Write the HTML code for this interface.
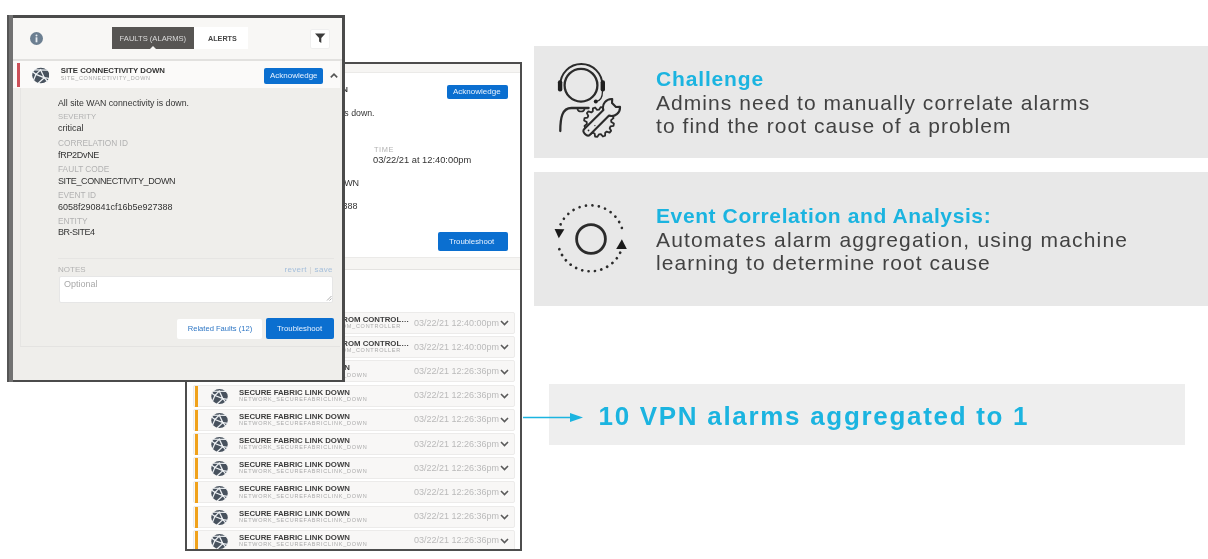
<!DOCTYPE html>
<html><head><meta charset="utf-8">
<style>
*{box-sizing:border-box;margin:0;padding:0}
html,body{width:1208px;height:559px;overflow:hidden;background:#fff}
body{position:relative;font-family:"Liberation Sans",sans-serif;color:#333}
.a{position:absolute}
.t{position:absolute;line-height:1;white-space:nowrap}
/* right panel */
#rp{position:absolute;left:185px;top:62px;width:336.5px;height:489px;border:2px solid #4d4d4d;background:#fff;overflow:hidden}
/* left panel */
#lp{position:absolute;left:7px;top:15px;width:338px;height:367px;background:#efeeeb;overflow:hidden}
.btn{position:absolute;background:#0b6fd0;border-radius:2px;color:#e8f2ff}
.lbl{color:#b2b2b2}
.val{color:#333}
.card{position:absolute;background:#e8e8e8}
.cy{color:#1bb4e0;font-weight:bold}
.body{color:#424242;font-size:21px;letter-spacing:1.05px}
.row{position:absolute;left:6px;width:322px;height:22px;background:#f8f7f6;border:1px solid #ecebea;border-radius:2px}
.row .bar{position:absolute;left:1.3px;top:0;width:3px;height:21px;background:#f0a21c}
.row svg{position:absolute;left:16.5px;top:3.3px}
.row .tt{position:absolute;left:45px;top:3.1px;font-size:7.8px;font-weight:bold;color:#3e3e3e;line-height:1;white-space:nowrap}
.row .st{position:absolute;left:45px;top:11.25px;font-size:5.5px;color:#aaa;letter-spacing:0.75px;line-height:1;white-space:nowrap}
.row .tm{position:absolute;left:220px;top:5.7px;font-size:9px;color:#bababa;line-height:1;white-space:nowrap}
.row .ch{position:absolute;left:306px;top:7.2px}
</style></head><body><div style="position:absolute;left:0;top:0;width:1208px;height:559px;will-change:transform">
<svg width="0" height="0" style="position:absolute">
<defs>
<symbol id="globe" viewBox="0 0 18 16">
<ellipse cx="9" cy="8" rx="8.8" ry="7.95" fill="#48525e"/>
<g stroke="#eef1f4" stroke-width="1.3" fill="none" stroke-linecap="round">
<path d="M4.1 6.9 L8.8 2.3 L12.6 10.3 L4.1 6.9 L0.6 4.2"/>
<path d="M12.6 10.3 L17.9 11.1"/>
<path d="M2.6 2.4 L15.6 2.6"/>
<path d="M4.1 6.9 L1.6 12.8"/>
<path d="M12.6 10.3 L6.6 15.8"/>
<path d="M12.6 10.3 L15.9 14.2"/>
</g>
</symbol>
<symbol id="chev" viewBox="0 0 9 6"><path d="M1 1 L4.5 4.5 L8 1" stroke="#5a5a5a" stroke-width="1.6" fill="none"/></symbol>
</defs>
</svg>

<!-- RIGHT (back) PANEL -->
<div id="rp">
  <div class="a" style="left:0;top:0;width:333px;height:9px;background:#f6f5f3;border-bottom:1px solid #ebeae8"></div>
  <div class="t val" style="right:171.5px;top:22px;font-size:7.8px;font-weight:bold">SITE CONNECTIVITY DOWN</div>
  <div class="btn" style="left:260px;top:20.6px;width:60.5px;height:14.2px"><div class="t" style="left:6px;top:3.3px;font-size:8px">Acknowledge</div></div>
  <div class="t val" style="right:145px;top:45.4px;font-size:8.75px">All site WAN connectivity is down.</div>
  <div class="t lbl" style="left:187px;top:82.2px;font-size:7.4px;letter-spacing:0.6px">TIME</div>
  <div class="t val" style="left:186px;top:92px;font-size:9.3px">03/22/21 at 12:40:00pm</div>
  <div class="t val" style="right:161px;top:114.9px;font-size:9px;letter-spacing:-0.38px">SITE_CONNECTIVITY_DOWN</div>
  <div class="t val" style="right:162px;top:138.1px;font-size:9px">6058f290841cf16b5e927388</div>
  <div class="btn" style="left:251px;top:168px;width:69.5px;height:19px"><div class="t" style="left:11px;top:5.5px;font-size:7.8px">Troubleshoot</div></div>
  <div class="a" style="left:0;top:193px;width:333px;height:13px;background:#f6f5f3;border-top:1px solid #ebeae8;border-bottom:1px solid #e4e3e1"></div>
  <div class="row" style="top:248.0px"><div class="tt" style="left:auto;right:105px">DISCONNECTED FROM CONTROL…</div><div class="st" style="left:auto;right:113px">FORTIGATE_DISCONNECTED_FROM_CONTROLLER</div><div class="tm">03/22/21 12:40:00pm</div><svg class="ch" width="9" height="6"><use href="#chev"/></svg></div>
<div class="row" style="top:272.2px"><div class="tt" style="left:auto;right:105px">DISCONNECTED FROM CONTROL…</div><div class="st" style="left:auto;right:113px">FORTIGATE_DISCONNECTED_FROM_CONTROLLER</div><div class="tm">03/22/21 12:40:00pm</div><svg class="ch" width="9" height="6"><use href="#chev"/></svg></div>
<div class="row" style="top:296.4px"><div class="bar"></div><svg width="17" height="15"><use href="#globe"/></svg><div class="tt">SECURE FABRIC LINK DOWN</div><div class="st">NETWORK_SECUREFABRICLINK_DOWN</div><div class="tm">03/22/21 12:26:36pm</div><svg class="ch" width="9" height="6"><use href="#chev"/></svg></div>
<div class="row" style="top:320.6px"><div class="bar"></div><svg width="17" height="15"><use href="#globe"/></svg><div class="tt">SECURE FABRIC LINK DOWN</div><div class="st">NETWORK_SECUREFABRICLINK_DOWN</div><div class="tm">03/22/21 12:26:36pm</div><svg class="ch" width="9" height="6"><use href="#chev"/></svg></div>
<div class="row" style="top:344.8px"><div class="bar"></div><svg width="17" height="15"><use href="#globe"/></svg><div class="tt">SECURE FABRIC LINK DOWN</div><div class="st">NETWORK_SECUREFABRICLINK_DOWN</div><div class="tm">03/22/21 12:26:36pm</div><svg class="ch" width="9" height="6"><use href="#chev"/></svg></div>
<div class="row" style="top:369.0px"><div class="bar"></div><svg width="17" height="15"><use href="#globe"/></svg><div class="tt">SECURE FABRIC LINK DOWN</div><div class="st">NETWORK_SECUREFABRICLINK_DOWN</div><div class="tm">03/22/21 12:26:36pm</div><svg class="ch" width="9" height="6"><use href="#chev"/></svg></div>
<div class="row" style="top:393.2px"><div class="bar"></div><svg width="17" height="15"><use href="#globe"/></svg><div class="tt">SECURE FABRIC LINK DOWN</div><div class="st">NETWORK_SECUREFABRICLINK_DOWN</div><div class="tm">03/22/21 12:26:36pm</div><svg class="ch" width="9" height="6"><use href="#chev"/></svg></div>
<div class="row" style="top:417.4px"><div class="bar"></div><svg width="17" height="15"><use href="#globe"/></svg><div class="tt">SECURE FABRIC LINK DOWN</div><div class="st">NETWORK_SECUREFABRICLINK_DOWN</div><div class="tm">03/22/21 12:26:36pm</div><svg class="ch" width="9" height="6"><use href="#chev"/></svg></div>
<div class="row" style="top:441.6px"><div class="bar"></div><svg width="17" height="15"><use href="#globe"/></svg><div class="tt">SECURE FABRIC LINK DOWN</div><div class="st">NETWORK_SECUREFABRICLINK_DOWN</div><div class="tm">03/22/21 12:26:36pm</div><svg class="ch" width="9" height="6"><use href="#chev"/></svg></div>
<div class="row" style="top:465.8px"><div class="bar"></div><svg width="17" height="15"><use href="#globe"/></svg><div class="tt">SECURE FABRIC LINK DOWN</div><div class="st">NETWORK_SECUREFABRICLINK_DOWN</div><div class="tm">03/22/21 12:26:36pm</div><svg class="ch" width="9" height="6"><use href="#chev"/></svg></div>

</div>

<!-- LEFT (front) PANEL -->
<div id="lp">
  <div class="a" style="left:0;top:0;width:338px;height:43.5px;background:#f8f7f5"></div>
  <div class="a" style="left:0;top:43.5px;width:338px;height:2.7px;background:#e2e1df"></div>
  <div class="a" style="left:0;top:46.2px;width:333px;height:26.4px;background:#fbfaf9"></div>
  <div class="a" style="left:10px;top:48px;width:3.2px;height:24.2px;background:#cc5059"></div>
  <svg class="a" style="left:24.8px;top:52px" width="17.6" height="16.9"><use href="#globe"/></svg>
  <div class="t val" style="left:53.7px;top:52.4px;font-size:7.8px;font-weight:bold">SITE CONNECTIVITY DOWN</div>
  <div class="t" style="left:53.7px;top:61.3px;font-size:5.5px;color:#aaa;letter-spacing:0.6px">SITE_CONNECTIVITY_DOWN</div>
  <div class="btn" style="left:257.3px;top:52.5px;width:59px;height:16.3px"><div class="t" style="left:5.7px;top:4px;font-size:8px">Acknowledge</div></div>
  <svg class="a" style="left:323px;top:58px" width="8" height="5" viewBox="0 0 8 5"><path d="M0.8 4.4 L4 1.2 L7.2 4.4" stroke="#555" stroke-width="1.6" fill="none"/></svg>

  <div class="t val" style="left:51px;top:83.6px;font-size:8.75px">All site WAN connectivity is down.</div>
  <div class="t lbl" style="left:51px;top:98.3px;font-size:7.7px">SEVERITY</div>
  <div class="t val" style="left:51px;top:109.4px;font-size:9px">critical</div>
  <div class="t lbl" style="left:51px;top:123.5px;font-size:8.3px">CORRELATION ID</div>
  <div class="t val" style="left:51px;top:135.8px;font-size:9px;letter-spacing:-0.31px">fRP2DvNE</div>
  <div class="t lbl" style="left:51px;top:150.1px;font-size:8.3px">FAULT CODE</div>
  <div class="t val" style="left:51px;top:161.7px;font-size:9px;letter-spacing:-0.38px">SITE_CONNECTIVITY_DOWN</div>
  <div class="t lbl" style="left:51px;top:175.9px;font-size:8.3px">EVENT ID</div>
  <div class="t val" style="left:51px;top:188.2px;font-size:9px">6058f290841cf16b5e927388</div>
  <div class="t lbl" style="left:51px;top:201.7px;font-size:8.3px">ENTITY</div>
  <div class="t val" style="left:51px;top:213.2px;font-size:9px;letter-spacing:-0.5px">BR-SITE4</div>
  <div class="a" style="left:51px;top:243px;width:276px;height:1px;background:#e6e5e3"></div>
  <div class="t lbl" style="left:51px;top:251px;font-size:8px">NOTES</div>
  <div class="t" style="left:277.4px;top:251px;font-size:8px;letter-spacing:0.35px;color:#a3bedb">revert <span style="color:#cdcdcd">|</span> save</div>
  <div class="a" style="left:52px;top:261px;width:274px;height:27.2px;background:#fff;border:1px solid #e6e6e6;border-radius:2px"></div>
  <div class="t" style="left:57px;top:265.4px;font-size:9px;color:#a9a9a9">Optional</div>
  <svg class="a" style="left:319px;top:280px" width="6" height="6" viewBox="0 0 6 6"><path d="M1 5.5 L5.5 1 M3.5 5.5 L5.5 3.5" stroke="#999" stroke-width="0.8"/></svg>
  <div class="a" style="left:170px;top:303.7px;width:85.2px;height:20.3px;background:#fff;border-radius:2px"><div class="t" style="left:10.7px;top:6.8px;font-size:7.6px;color:#2f77c5">Related Faults (12)</div></div>
  <div class="btn" style="left:258.5px;top:303.2px;width:68px;height:20.8px"><div class="t" style="left:11.4px;top:7px;font-size:7.8px">Troubleshoot</div></div>
  <div class="a" style="left:13px;top:331px;width:320px;height:1px;background:#e4e3e1"></div>
  <div class="a" style="left:12.5px;top:72.6px;width:1px;height:258.4px;background:#e6e5e3"></div>

  <!-- header -->
  <svg class="a" style="left:22.5px;top:16.5px" width="13" height="13" viewBox="0 0 13 13"><circle cx="6.5" cy="6.5" r="6.5" fill="#6c7f91"/><rect x="5.6" y="5.3" width="1.8" height="5" fill="#e9eef3"/><circle cx="6.5" cy="3.4" r="1" fill="#e9eef3"/></svg>
  <div class="a" style="left:105px;top:12.2px;width:82.3px;height:22.2px;background:#575553"></div>
  <div class="a" style="left:142.5px;top:31.4px;width:0;height:0;border-left:3.5px solid transparent;border-right:3.5px solid transparent;border-bottom:3px solid #f8f7f5"></div>
  <div class="t" style="left:112.6px;top:19.8px;font-size:7.6px;color:#dcdcdc">FAULTS (ALARMS)</div>
  <div class="a" style="left:187.3px;top:12.2px;width:53.4px;height:22.2px;background:#fff"></div>
  <div class="t" style="left:201px;top:19.8px;font-size:7.2px;font-weight:bold;color:#444">ALERTS</div>
  <div class="a" style="left:303px;top:13.6px;width:20px;height:20.4px;background:#fff;border-radius:2px;border:1px solid #efefef"></div>
  <svg class="a" style="left:308.3px;top:18.2px" width="10.4" height="10.4" viewBox="0 0 10.4 10.4"><path d="M0 0.4 H10.4 L6.3 5 V10 L4.1 8.6 V5 Z" fill="#3b3b3b"/></svg>

  <!-- borders -->
  <div class="a" style="left:0;top:0;width:338px;height:3px;background:#4b4b4b"></div>
  <div class="a" style="left:0;top:364.5px;width:338px;height:2.5px;background:#4b4b4b"></div>
  <div class="a" style="left:335px;top:0;width:3px;height:367px;background:#4b4b4b"></div>
  <div class="a" style="left:0;top:0;width:2px;height:367px;background:#555"></div>
  <div class="a" style="left:2px;top:0;width:4px;height:367px;background:#727272"></div>
</div>

<!-- RIGHT CARDS -->
<div class="card" style="left:534px;top:46px;width:674px;height:112px"></div>
<div class="card" style="left:534px;top:171.5px;width:674px;height:134.5px"></div>
<div class="card" style="left:549px;top:384px;width:636px;height:61px;background:#eeeeee"></div>

<!-- ICONS -->
<svg class="a" style="left:550px;top:58px" width="80" height="80" viewBox="0 0 80 80">
<g fill="none" stroke="#2b2b2b" stroke-linecap="round" stroke-linejoin="round">
<circle cx="31" cy="27.2" r="16.4" stroke-width="2.3"/>
<path d="M10.3 27 A21 21 0 0 1 52.3 27" stroke-width="2"/>
<path d="M52.5 33 Q52.5 43 45.8 43.6" stroke-width="1.3"/>
<path d="M10.3 73 C10.3 60 12 50 21.5 50 L38.6 50" stroke-width="2.3"/>
<path d="M27.5 51.2 A3.6 3 0 0 0 34.5 51.2" stroke-width="1.6"/>
<path d="M61.3 64.0 L63.9 65.6 L63.5 67.9 L60.5 68.4 L59.7 70.2 L61.1 72.8 L59.6 74.6 L56.7 73.6 L55.2 74.7 L55.1 77.7 L52.9 78.5 L50.9 76.1 L49.0 76.3 L47.4 78.9 L45.1 78.5 L44.6 75.5 L42.9 74.7 L40.2 76.1 L38.4 74.6 L39.4 71.7 L38.3 70.2 L35.3 70.1 L34.5 67.9 L36.9 65.9 L36.7 64.0 L34.1 62.4 L34.5 60.1 L37.5 59.6 L38.3 57.9 L36.9 55.2 L38.4 53.4 L41.3 54.4 L42.8 53.3 L42.9 50.3 L45.1 49.5 L47.1 51.9 L49.0 51.7 L50.6 49.1 L52.9 49.5 L53.4 52.5 L55.1 53.3 L57.8 51.9 L59.6 53.4 L58.6 56.3 L59.7 57.8 L62.7 57.9 L63.5 60.1 L61.1 62.1 Z" stroke-width="1.8" fill="#e8e8e8"/>
<g transform="translate(35 76) rotate(-45)">
<path d="M30 -4 L3 -4 Q0 -4 0 0 Q0 4 3 4 L30 4 A8.5 8.5 0 0 0 44 5.5 L41 2.8 L41 -2.8 L44 -5.5 A8.5 8.5 0 0 0 30 -4 Z" stroke-width="2.1" fill="#e8e8e8"/>
<circle cx="5" cy="0" r="0.9" fill="#2b2b2b" stroke="none"/>
<circle cx="13" cy="1" r="0.6" fill="#2b2b2b" stroke="none"/>
</g>
</g>
<rect x="7.9" y="22.2" width="4.4" height="11.4" rx="2" fill="#1f1f1f"/>
<rect x="50.6" y="22.2" width="4.4" height="11.4" rx="2" fill="#1f1f1f"/>
<circle cx="45.8" cy="43.6" r="2" fill="#1f1f1f"/>
</svg>
<svg class="a" style="left:550px;top:198px" width="82" height="82" viewBox="0 0 82 82">
<circle cx="41" cy="41" r="14.4" fill="none" stroke="#2b2b2b" stroke-width="2.8"/>
<g fill="none" stroke="#2b2b2b" stroke-width="2.7" stroke-linecap="round">
<path d="M10.59 26.35 A33 33 0 0 1 71.88 30.10" stroke-dasharray="0.01 6.526"/>
<path d="M70.16 54.77 A33 33 0 0 1 9.30 51.04" stroke-dasharray="0.01 6.430"/>
</g>
<path d="M4.6 31 L14.4 31.2 L8.8 40.2 Z" fill="#1a1a1a"/>
<path d="M71.9 41.2 L76.8 50.9 L66.2 50.9 Z" fill="#1a1a1a"/>
</svg>
<div class="t cy" style="left:656px;top:68px;font-size:21px;letter-spacing:0.85px">Challenge</div>
<div class="t body" style="left:656px;top:92px">Admins need to manually correlate alarms</div>
<div class="t body" style="left:656px;top:115px">to find the root cause of a problem</div>

<div class="t cy" style="left:656px;top:205px;font-size:21px;letter-spacing:0.6px">Event Correlation and Analysis:</div>
<div class="t body" style="left:656px;top:229px;letter-spacing:1.18px">Automates alarm aggregation, using machine</div>
<div class="t body" style="left:656px;top:252px">learning to determine root cause</div>

<div class="t cy" style="left:598.5px;top:403px;font-size:26px;letter-spacing:1.7px">10 VPN alarms aggregated to 1</div>
<svg class="a" style="left:523px;top:411px" width="62" height="13" viewBox="0 0 62 13">
<line x1="0" y1="6.5" x2="50" y2="6.5" stroke="#1bb4e0" stroke-width="1.6"/>
<path d="M47 2 L60 6.5 L47 11 Z" fill="#1bb4e0"/>
</svg>

</div></body></html>
